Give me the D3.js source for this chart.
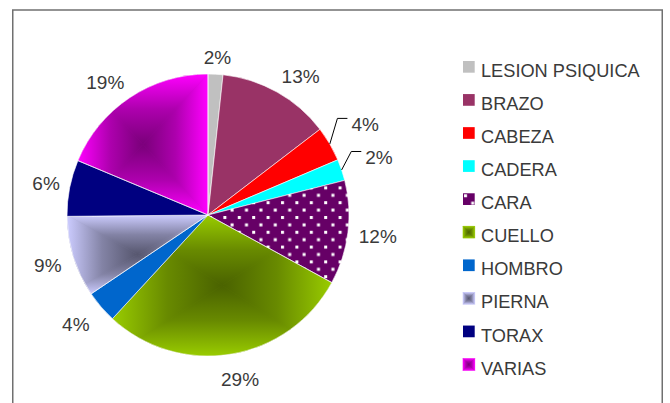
<!DOCTYPE html>
<html>
<head>
<meta charset="utf-8">
<script src="https://cdn.jsdelivr.net/npm/d3@7"></script>
<style>
  body { margin: 0; background: #fff; }
  text { font-family: "Liberation Sans", Arial, sans-serif; fill: #3a3a3a; }
</style>
</head>
<body>
<div id="chart"></div>
<script>
// data (share of cases per body part)
const categories = ["LESION PSIQUICA", "BRAZO", "CABEZA", "CADERA", "CARA", "CUELLO", "HOMBRO", "PIERNA", "TORAX", "VARIAS"];
const values = [1.7, 12.9, 4.0, 2.45, 11.9, 28.9, 3.7, 9.3, 6.45, 18.7];
// labels that Excel pulled out with a leader line
const calloutLabels = ["CABEZA", "CADERA"];

const colors = {
  "LESION PSIQUICA": "#c0c0c0",
  "BRAZO": "#993366",
  "CABEZA": "#ff0000",
  "CADERA": "#00ffff",
  "CARA": "url(#dots)",
  "CUELLO": "#99cc00",
  "HOMBRO": "#0066cc",
  "PIERNA": "#ccccff",
  "TORAX": "#000080",
  "VARIAS": "#ff00ff"
};
// "from center" gradients: [edge colour, centre colour]
const gradients = {
  "CUELLO": ["#99cc00", "#4a6200"],
  "PIERNA": ["#ccccff", "#56566e"],
  "VARIAS": ["#ff00ff", "#7a007a"]
};

const width = 670, height = 403;
const cx = 208, cy = 215, radius = 141;

const data = categories.map((c, i) => ({ name: c, value: values[i] }));
const total = d3.sum(values);

const svg = d3.select("#chart")
  .append("svg")
  .attr("width", width)
  .attr("height", height);

const defs = svg.append("defs");

// dotted pattern for CARA
const pat = defs.append("pattern")
  .attr("id", "dots")
  .attr("patternUnits", "userSpaceOnUse")
  .attr("width", 14.4)
  .attr("height", 14.8);
pat.append("rect").attr("width", 14.4).attr("height", 14.8).attr("fill", "#660066");
pat.append("rect").attr("x", 1).attr("y", 1).attr("width", 3).attr("height", 3).attr("fill", "#fff");
pat.append("rect").attr("x", 8.2).attr("y", 8.4).attr("width", 3).attr("height", 3).attr("fill", "#fff");

// outer frame
svg.append("rect")
  .attr("x", 12.75)
  .attr("y", 10)
  .attr("width", 649.5)
  .attr("height", 430)
  .attr("fill", "none")
  .attr("stroke", "#707070")
  .attr("stroke-width", 1.5);

let gradCount = 0;
// rectangular "from center" gradient: four triangles, each with its own linear gradient
function rectGradient(g, box, edge, center, clipId) {
  const x0 = box.x, y0 = box.y, x1 = box.x + box.width, y1 = box.y + box.height;
  const mx = (x0 + x1) / 2, my = (y0 + y1) / 2;
  const mix = d3.interpolateRgb(edge, center);
  const holder = g.append("g");
  if (clipId) holder.attr("clip-path", `url(#${clipId})`);
  holder.append("rect")
    .attr("x", x0).attr("y", y0).attr("width", box.width).attr("height", box.height)
    .attr("fill", mix(0.5));
  const parts = [
    { pts: [[x0, y0], [x1, y0], [mx, my]], from: [mx, y0] },
    { pts: [[x0, y1], [x1, y1], [mx, my]], from: [mx, y1] },
    { pts: [[x0, y0], [x0, y1], [mx, my]], from: [x0, my] },
    { pts: [[x1, y0], [x1, y1], [mx, my]], from: [x1, my] }
  ];
  parts.forEach(p => {
    const id = "rg" + (gradCount++);
    const lg = defs.append("linearGradient")
      .attr("id", id)
      .attr("gradientUnits", "userSpaceOnUse")
      .attr("x1", p.from[0]).attr("y1", p.from[1])
      .attr("x2", mx).attr("y2", my);
    lg.append("stop").attr("offset", 0).attr("stop-color", edge);
    lg.append("stop").attr("offset", 0.5).attr("stop-color", mix(0.62));
    lg.append("stop").attr("offset", 1).attr("stop-color", center);
    holder.append("polygon")
      .attr("points", p.pts.map(q => q.join(",")).join(" "))
      .attr("fill", `url(#${id})`)
      .attr("stroke", `url(#${id})`)
      .attr("stroke-width", 0.6);
  });
}

const pie = d3.pie().sort(null).value(d => d.value);
const arc = d3.arc().innerRadius(0).outerRadius(radius);
const arcs = pie(data);

const under = svg.append("g");   // gradient fills go here
const g = svg.append("g").attr("transform", `translate(${cx}, ${cy})`);

arcs.forEach((d, i) => {
  const name = d.data.name;
  if (gradients[name]) {
    const clipId = "clip" + i;
    defs.append("clipPath").attr("id", clipId)
      .append("path").attr("d", arc(d)).attr("transform", `translate(${cx}, ${cy})`);
    const tmp = g.append("path").attr("d", arc(d)).attr("fill", "none");
    const box = tmp.node().getBBox();
    tmp.remove();
    rectGradient(under, { x: box.x + cx, y: box.y + cy, width: box.width, height: box.height },
      gradients[name][0], gradients[name][1], clipId);
    g.append("path").attr("d", arc(d)).attr("fill", "none")
      .attr("stroke", "#fff").attr("stroke-width", 0.6);
  } else {
    g.append("path")
      .attr("d", arc(d))
      .attr("fill", colors[name])
      .attr("stroke", "#fff")
      .attr("stroke-width", 0.6);
  }
});

// percentage labels, box pushed out from the pie edge
const labelSize = 19;
const clamp = v => Math.max(-1, Math.min(1, v));
const lg = svg.append("g").attr("transform", `translate(${cx}, ${cy})`);
arcs.forEach(d => {
  const a = (d.startAngle + d.endAngle) / 2;
  const ux = Math.sin(a), uy = -Math.cos(a);
  const callout = calloutLabels.includes(d.data.name);
  const t = lg.append("text")
    .attr("font-size", labelSize)
    .attr("text-anchor", "middle")
    .attr("dy", "0.36em")
    .text(Math.round(d.value / total * 100) + "%");
  const halfW = t.node().getComputedTextLength() / 2;
  const halfH = 7;
  const gap = 10 + Math.max(0, uy) * 8;
  const rr = radius + gap + (callout ? 15 : 0);
  const x = ux * rr + clamp(ux * 2) * halfW;
  const y = uy * rr + clamp(uy * 2) * halfH;
  t.attr("x", x).attr("y", y);
  if (callout) {
    const p2 = [x - halfW - 4, y - 6];
    const p1 = [p2[0] - 10, p2[1]];
    const p0 = [ux * radius, uy * radius];
    lg.append("polyline")
      .attr("points", [p0, p1, p2].map(q => q.join(",")).join(" "))
      .attr("fill", "none")
      .attr("stroke", "#000")
      .attr("stroke-width", 1);
  }
});

// legend
const legend = svg.append("g").attr("transform", "translate(463, 61)");
const rowStep = 33.07, box = 11.7;
categories.forEach((c, i) => {
  const row = legend.append("g").attr("transform", `translate(0, ${i * rowStep})`);
  if (gradients[c]) {
    rectGradient(row, { x: 0, y: 0, width: box, height: box }, gradients[c][0], gradients[c][1], null);
  } else {
    row.append("rect")
      .attr("width", box)
      .attr("height", box)
      .attr("fill", colors[c]);
  }
  row.append("text")
    .attr("x", 18)
    .attr("y", box + 4.3)
    .attr("font-size", 18.2)
    .text(c);
});
</script>
</body>
</html>
